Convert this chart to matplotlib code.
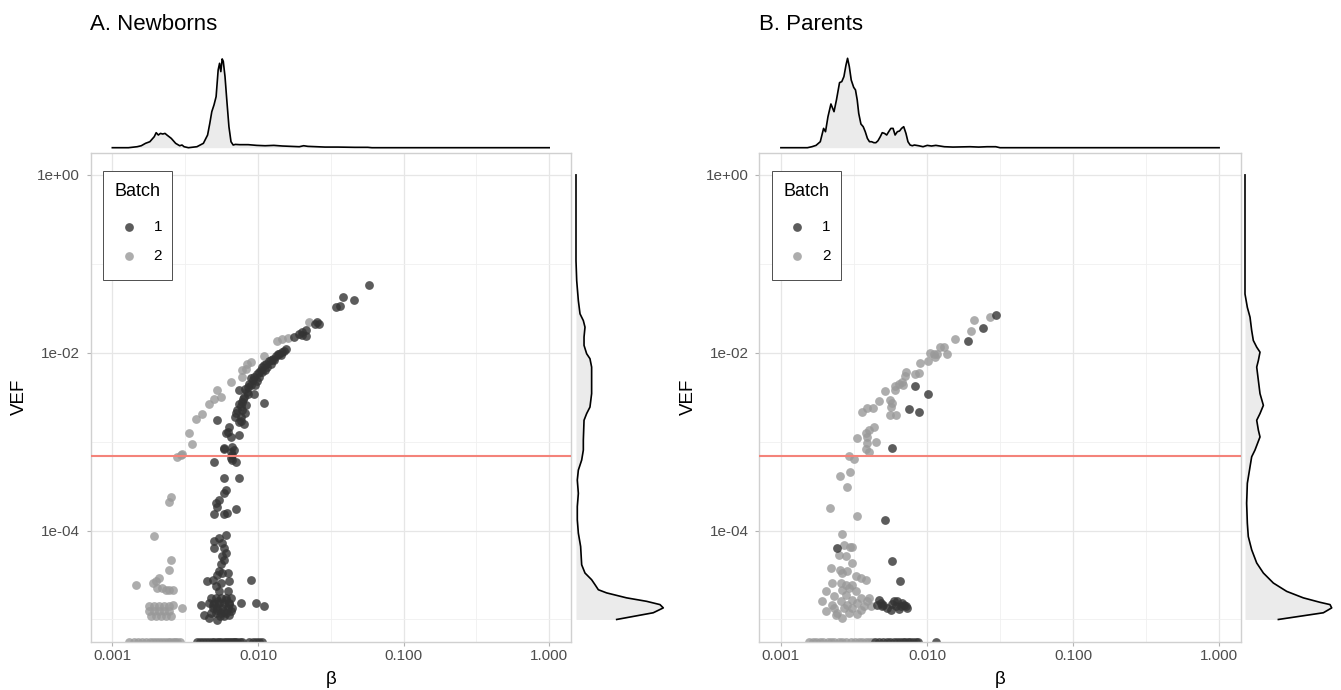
import numpy as np
import matplotlib
matplotlib.use("Agg")
import matplotlib.pyplot as plt
from matplotlib.patches import Rectangle
from matplotlib.lines import Line2D
from matplotlib.ticker import FixedLocator, FixedFormatter, NullFormatter

plt.rcParams['font.family'] = ['Liberation Sans', 'DejaVu Sans']

# ---------------- data ----------------
titles = ["A. Newborns", "B. Parents"]
batches = ["1", "2"]
batch_colors = ["#333333", "#999999"]
x_breaks = [0.001, 0.01, 0.1, 1.0]
x_labels = ["0.001", "0.010", "0.100", "1.000"]
y_breaks = [1.0, 1e-2, 1e-4]
y_labels = ["1e+00", "1e-02", "1e-04"]
vef_threshold = 6.94e-4

# Panel A, batch 1
A_b1_beta = [
    0.0578, 0.0385, 0.0460, 0.0343, 0.0365, 0.0256, 0.0246, 0.0263, 0.0213, 0.0202,
    0.0192, 0.0213, 0.0177, 0.0200, 0.0155, 0.0147, 0.0140, 0.0133, 0.01435, 0.0126,
    0.0119, 0.0129, 0.0113, 0.01225, 0.0107, 0.0116, 0.0105, 0.0112, 0.0099, 0.0107,
    0.0094, 0.0102, 0.0092, 0.0098, 0.0089, 0.0096, 0.0085, 0.0084, 0.0094, 0.0080,
    0.0074, 0.0078, 0.0074, 0.0083, 0.0072, 0.0078, 0.0076, 0.0070, 0.0080, 0.0074,
    0.0110, 0.0150, 0.0137, 0.0122, 0.0110, 0.0101, 0.0090, 0.0087, 0.0082, 0.0086,
    0.0079, 0.0076, 0.0071, 0.0082, 0.0077, 0.00527, 0.00634, 0.0060, 0.00652, 0.0074,
    0.0062, 0.00586, 0.00652, 0.00668, 0.00667, 0.00585, 0.00685, 0.00667, 0.0050, 0.00652,
    0.00705, 0.00586, 0.00743, 0.00601, 0.00586, 0.00542, 0.00514, 0.00527, 0.00705, 0.0050,
    0.00586, 0.0061, 0.00601, 0.00542, 0.0050, 0.0057, 0.0050, 0.00586, 0.00601, 0.0057,
    0.00586, 0.00556, 0.00542, 0.0057, 0.00618, 0.00527, 0.0045, 0.00488, 0.00634, 0.00903,
    0.00556, 0.00514, 0.00618, 0.00542,
    0.00474, 0.00514, 0.00556, 0.00601, 0.00652, 0.00462, 0.0050, 0.00542, 0.00586, 0.00634,
    0.00406, 0.00488, 0.00527, 0.0057, 0.00618, 0.00668, 0.00474, 0.00514, 0.00556, 0.00601,
    0.00652, 0.00427, 0.00634, 0.00462, 0.00527, 0.00586, 0.00762, 0.00966, 0.01104,
    0.0053, 0.0058, 0.0049, 0.0063, 0.0055, 0.0060, 0.0052,
    0.0038, 0.0040, 0.0042, 0.0044, 0.0046, 0.0048, 0.0050, 0.0052, 0.0054, 0.0056,
    0.0058, 0.0060, 0.0062, 0.0064, 0.0066, 0.0068, 0.0070, 0.0072, 0.0075, 0.0078,
    0.0087, 0.0092, 0.0097, 0.0102, 0.0106,
]
A_b1_vef = [
    0.0584, 0.0429, 0.0393, 0.0325, 0.0333, 0.0221, 0.0211, 0.0211, 0.0178, 0.0171,
    0.0163, 0.0156, 0.0150, 0.0160, 0.0109, 0.0102, 0.00958, 0.0091, 0.00933, 0.00857,
    0.00807, 0.0082, 0.00753, 0.0074, 0.0069, 0.0069, 0.00634, 0.00634, 0.00582, 0.00607,
    0.00533, 0.00533, 0.0049, 0.00478, 0.0043, 0.0043, 0.00412, 0.00362, 0.00341, 0.00318,
    0.00378, 0.0028, 0.00268, 0.00257, 0.00226, 0.00226, 0.0019, 0.0019, 0.0016, 0.00167,
    0.0027, 0.0105, 0.0097, 0.0083, 0.0072, 0.0061, 0.0052, 0.0045, 0.0039, 0.0034,
    0.0030, 0.0025, 0.0021, 0.0021, 0.0017, 0.00174, 0.00147, 0.00124, 0.00114, 0.00118,
    0.00129, 0.00084, 0.00077, 0.00071, 0.000875, 0.00082, 0.000808, 0.00062, 0.000594, 0.000647,
    0.000594, 0.000386, 0.000386, 0.000286, 0.000262, 0.000221, 0.000202, 0.000186, 0.000175, 0.000153,
    0.000153, 0.000157, 8.9e-5, 8.35e-5, 7.66e-5, 7.2e-5, 6.34e-5, 6.34e-5, 5.57e-5, 5.12e-5,
    4.69e-5, 4.2e-5, 3.47e-5, 3.32e-5, 3.32e-5, 3.13e-5, 2.68e-5, 2.8e-5, 2.68e-5, 2.8e-5,
    2.57e-5, 2.36e-5, 2.07e-5, 2.07e-5,
    1.74e-5, 1.74e-5, 1.74e-5, 1.74e-5, 1.74e-5, 1.53e-5, 1.53e-5, 1.53e-5, 1.53e-5, 1.53e-5,
    1.47e-5, 1.35e-5, 1.35e-5, 1.35e-5, 1.35e-5, 1.35e-5, 1.18e-5, 1.18e-5, 1.18e-5, 1.18e-5,
    1.24e-5, 1.13e-5, 1.13e-5, 1.04e-5, 9.98e-6, 1.09e-5, 1.53e-5, 1.53e-5, 1.41e-5,
    1.6e-5, 1.25e-5, 1.45e-5, 1.5e-5, 1.1e-5, 1.65e-5, 1.28e-5,
    0, 0, 0, 0, 0, 0, 0, 0, 0, 0,
    0, 0, 0, 0, 0, 0, 0, 0, 0, 0,
    0, 0, 0, 0, 0,
]

# Panel A, batch 2
A_b2_beta = [
    0.0225, 0.0136, 0.0147, 0.0160, 0.0110, 0.00893, 0.00847, 0.00783, 0.00826, 0.00783,
    0.00652, 0.00527, 0.0050, 0.00556, 0.00462, 0.00416, 0.00374, 0.00337, 0.00355, 0.00303,
    0.0028, 0.00295, 0.00252, 0.00245, 0.00194, 0.00252, 0.00245, 0.00145, 0.00189, 0.00199,
    0.0021, 0.00204, 0.00221, 0.00233, 0.00245, 0.00263, 0.00303, 0.00259,
    0.00179, 0.00194, 0.0021, 0.00227, 0.00245,
    0.00179, 0.00194, 0.0021, 0.00227, 0.00245,
    0.00184, 0.00199, 0.00215, 0.00233, 0.00252,
    0.0013, 0.0014, 0.0015, 0.0016, 0.0017, 0.0018, 0.0019, 0.0020, 0.0021, 0.0022,
    0.0023, 0.0024, 0.0025, 0.0026, 0.0027, 0.0028, 0.0029,
]
A_b2_vef = [
    0.0221, 0.0135, 0.0144, 0.0146, 0.0091, 0.00785, 0.0074, 0.00634, 0.00662, 0.00533,
    0.00469, 0.00378, 0.00305, 0.00318, 0.00268, 0.00207, 0.00179, 0.00124, 0.00093, 0.00072,
    0.00068, 0.000705, 0.00024, 0.000211, 8.7e-5, 4.69e-5, 3.62e-5, 2.46e-5, 2.57e-5, 2.68e-5,
    2.92e-5, 2.26e-5, 2.26e-5, 2.16e-5, 2.16e-5, 2.16e-5, 1.35e-5, 1.47e-5,
    1.41e-5, 1.41e-5, 1.41e-5, 1.41e-5, 1.41e-5,
    1.24e-5, 1.24e-5, 1.24e-5, 1.24e-5, 1.24e-5,
    1.09e-5, 1.09e-5, 1.09e-5, 1.09e-5, 1.09e-5,
    0, 0, 0, 0, 0, 0, 0, 0, 0, 0,
    0, 0, 0, 0, 0, 0, 0,
]

# Panel B, batch 1
B_b1_beta = [
    0.0298, 0.0241, 0.0191, 0.00826, 0.0102, 0.00752, 0.0088, 0.00578, 0.0052, 0.00243,
    0.00572, 0.00652, 0.00469, 0.00456, 0.00494, 0.00481, 0.00534, 0.00563, 0.0061, 0.00625,
    0.00643, 0.00695, 0.00733, 0.00593, 0.00676, 0.0050, 0.0066, 0.0072, 0.0058,
    0.0044, 0.0047, 0.0050, 0.0053, 0.0056, 0.0059, 0.0062, 0.0065, 0.0068, 0.0071,
    0.0074, 0.0077, 0.0080, 0.0084, 0.0087, 0.0115,
]
B_b1_vef = [
    0.0268, 0.019, 0.0135, 0.0042, 0.00341, 0.0023, 0.00216, 0.00084, 0.000132, 6.34e-5,
    4.49e-5, 2.73e-5, 1.67e-5, 1.47e-5, 1.41e-5, 1.53e-5, 1.35e-5, 1.29e-5, 1.41e-5, 1.6e-5,
    1.32e-5, 1.47e-5, 1.35e-5, 1.6e-5, 1.53e-5, 1.45e-5, 1.4e-5, 1.42e-5, 1.5e-5,
    0, 0, 0, 0, 0, 0, 0, 0, 0, 0,
    0, 0, 0, 0, 0, 0,
]

# Panel B, batch 2
B_b2_beta = [
    0.0272, 0.0211, 0.0200, 0.0155, 0.01303, 0.01236, 0.01374, 0.01174, 0.01113, 0.01057,
    0.01143, 0.0102, 0.00893, 0.0088, 0.00826, 0.00724, 0.00702, 0.00676, 0.00643, 0.00603,
    0.00603, 0.00687, 0.00515, 0.00469, 0.00428, 0.0039, 0.0036, 0.00557, 0.00578, 0.00563,
    0.00557, 0.0061, 0.00433, 0.00401, 0.0038, 0.00333, 0.00388, 0.00445, 0.0039, 0.0038,
    0.00401, 0.00292, 0.00316, 0.00297, 0.00254, 0.00282, 0.00217, 0.00333, 0.0026, 0.0027,
    0.00297, 0.00305, 0.0025, 0.00277, 0.00305, 0.00219, 0.00254, 0.00285, 0.00263, 0.00325,
    0.00351, 0.0038, 0.00225, 0.00256, 0.00277, 0.00308, 0.00292, 0.00263, 0.00202, 0.00325,
    0.00231, 0.00277, 0.00192, 0.00351, 0.00401, 0.00308, 0.00256, 0.00225, 0.00285, 0.00333,
    0.0037, 0.00231, 0.0027, 0.00308, 0.00351, 0.00202, 0.00243, 0.00292, 0.00333, 0.00263,
    0.00237, 0.00411, 0.0039,
    0.00155, 0.00165, 0.00175, 0.00185, 0.00195, 0.0021, 0.0022, 0.0023, 0.0025, 0.0026,
    0.0028, 0.0030, 0.0032, 0.0034, 0.0036, 0.0038, 0.0040, 0.0042,
]
B_b2_vef = [
    0.0255, 0.0231, 0.0175, 0.0144, 0.0116, 0.0116, 0.00975, 0.00975, 0.00975, 0.0099,
    0.00893, 0.0081, 0.00766, 0.0059, 0.00571, 0.00607, 0.00543, 0.00469, 0.00449, 0.0042,
    0.00385, 0.0043, 0.00372, 0.00287, 0.00242, 0.00242, 0.00216, 0.00297, 0.00273, 0.00246,
    0.00198, 0.00198, 0.00147, 0.00135, 0.00124, 0.00111, 0.00113, 0.000995, 0.000955, 0.000818,
    0.00077, 0.000689, 0.00063, 0.000458, 0.00041, 0.000306, 0.000178, 0.000146, 9.1e-5, 6.9e-5,
    6.6e-5, 6.6e-5, 5.33e-5, 5.12e-5, 4.3e-5, 3.78e-5, 3.62e-5, 3.47e-5, 3.32e-5, 3.05e-5,
    2.92e-5, 2.8e-5, 2.57e-5, 2.57e-5, 2.46e-5, 2.46e-5, 2.26e-5, 2.16e-5, 2.07e-5, 2.07e-5,
    1.82e-5, 1.9e-5, 1.6e-5, 1.74e-5, 1.74e-5, 1.67e-5, 1.6e-5, 1.47e-5, 1.47e-5, 1.53e-5,
    1.41e-5, 1.35e-5, 1.35e-5, 1.35e-5, 1.29e-5, 1.24e-5, 1.18e-5, 1.18e-5, 1.15e-5, 1.04e-5,
    1.13e-5, 1.41e-5, 1.6e-5,
    0, 0, 0, 0, 0, 0, 0, 0, 0, 0,
    0, 0, 0, 0, 0, 0, 0, 0,
]

# Marginal densities (scaled so the highest peak is 1)
A_top_beta = [0.001, 0.00129, 0.00148, 0.00158, 0.00169, 0.00181, 0.00194, 0.0020, 0.00207, 0.00214,
              0.00222, 0.0023, 0.00237, 0.00254, 0.00272, 0.0029, 0.00301, 0.00311, 0.00333, 0.00381,
              0.00422, 0.00451, 0.00467, 0.00482, 0.00499, 0.00516, 0.00533, 0.00545, 0.00556, 0.00568,
              0.00578, 0.00594, 0.00611, 0.00632, 0.00653, 0.00676, 0.0070, 0.00748, 0.00857, 0.0098,
              0.0112, 0.01285, 0.01469, 0.01923, 0.0206, 0.02203, 0.02523, 0.02884, 0.03532, 0.04634,
              0.05675, 0.06067, 1.0]
A_top_dens = [0, 0, 0.011, 0.022, 0.049, 0.067, 0.123, 0.168, 0.142, 0.160,
              0.153, 0.160, 0.142, 0.104, 0.049, 0.022, 0.030, 0.011, 0, 0.011,
              0.049, 0.142, 0.272, 0.403, 0.478, 0.571, 0.869, 0.944, 0.851, 0.993,
              0.966, 0.795, 0.534, 0.235, 0.067, 0.030, 0.037, 0.034, 0.034, 0.026,
              0.022, 0.026, 0.019, 0.011, 0.022, 0.015, 0.011, 0.007, 0.007, 0.004,
              0.004, 0, 0]
B_top_beta = [0.001, 0.00152, 0.00163, 0.00174, 0.00186, 0.00196, 0.00202, 0.0021, 0.0022, 0.00231,
              0.0024, 0.00252, 0.00261, 0.0027, 0.00279, 0.00286, 0.00294, 0.00303, 0.00315, 0.00324,
              0.00333, 0.00341, 0.00353, 0.00366, 0.00378, 0.00391, 0.00404, 0.00418, 0.00433, 0.00447,
              0.00462, 0.00479, 0.00494, 0.00512, 0.0053, 0.00547, 0.00566, 0.00586, 0.00605, 0.00627,
              0.00649, 0.0067, 0.00693, 0.00718, 0.00741, 0.00767, 0.00794, 0.0082, 0.00877, 0.0094,
              0.01005, 0.01074, 0.0115, 0.01315, 0.01507, 0.01972, 0.0226, 0.02582, 0.02958, 0.03162,
              1.0]
B_top_dens = [0, 0, 0.011, 0.026, 0.067, 0.216, 0.179, 0.347, 0.489, 0.403,
              0.534, 0.728, 0.739, 0.795, 0.925, 1.0, 0.907, 0.757, 0.675, 0.646,
              0.534, 0.384, 0.265, 0.235, 0.179, 0.104, 0.067, 0.067, 0.056, 0.056,
              0.078, 0.123, 0.168, 0.160, 0.142, 0.179, 0.216, 0.216, 0.142, 0.179,
              0.187, 0.216, 0.235, 0.160, 0.067, 0.030, 0.022, 0.030, 0.022, 0.011,
              0.026, 0.019, 0.026, 0.011, 0.007, 0.011, 0.007, 0.011, 0.011, 0,
              0]
A_right_vef = [1.0, 0.108, 0.0647, 0.0385, 0.0274, 0.0230, 0.0194, 0.0150, 0.0121, 0.00975,
               0.00857, 0.0069, 0.00347, 0.00245, 0.00207, 0.00174, 0.00104, 0.000804, 0.000621, 0.000479,
               0.00037, 0.000262, 0.000186, 0.000132, 9.35e-5, 6.62e-5, 4.12e-5, 3.33e-5, 2.8e-5, 2.46e-5,
               2.16e-5, 1.99e-5, 1.75e-5, 1.6e-5, 1.47e-5, 1.35e-5, 1.19e-5, 1.0e-5]
A_right_dens = [0, 0, 0.008, 0.027, 0.046, 0.084, 0.103, 0.092, 0.092, 0.122,
                0.160, 0.179, 0.179, 0.160, 0.122, 0.092, 0.084, 0.084, 0.065, 0.027,
                0.015, 0.027, 0.015, 0.015, 0.027, 0.053, 0.065, 0.103, 0.179, 0.218,
                0.256, 0.351, 0.580, 0.809, 0.962, 1.0, 0.885, 0.466]
B_right_vef = [1.0, 0.0458, 0.0324, 0.0251, 0.0178, 0.01374, 0.01156, 0.01016, 0.00818, 0.0069,
               0.00489, 0.00347, 0.00256, 0.00207, 0.00174, 0.00135, 0.00113, 0.000804, 0.000676, 0.000522,
               0.00034, 0.000203, 0.000121, 8.57e-5, 6.08e-5, 4.32e-5, 3.33e-5, 2.57e-5, 2.07e-5, 1.75e-5,
               1.56e-5, 1.47e-5, 1.35e-5, 1.19e-5, 1.0e-5]
B_right_dens = [0, 0, 0.027, 0.058, 0.077, 0.096, 0.135, 0.173, 0.154, 0.135,
                0.154, 0.173, 0.212, 0.173, 0.135, 0.154, 0.173, 0.115, 0.077, 0.058,
                0.027, 0.019, 0.027, 0.038, 0.077, 0.135, 0.212, 0.327, 0.481, 0.673,
                0.865, 0.981, 1.0, 0.904, 0.385]

# ---------------- layout ----------------
W, H = 1341, 690
fig = plt.figure(figsize=(W / 100, H / 100), dpi=100)
fig.patch.set_facecolor("white")

XLIM = (10 ** -3.15, 10 ** 0.15)
YLIM = (10 ** -5.25, 10 ** 0.25)
x_minor = [10 ** -2.5, 10 ** -1.5, 10 ** -0.5]
y_minor = [1e-1, 1e-3, 1e-5]


def add_ax(l, t, r, b):
    return fig.add_axes([l / W, 1 - b / H, (r - l) / W, (b - t) / H])


def draw_panel(left, right, title, b1x, b1y, b2x, b2y, tx, td, rv, rd,
               rbase, rpeak):
    top, bottom = 152.7, 641.7
    ax = add_ax(left, top, right, bottom)
    ax.set_xscale("log")
    ax.set_yscale("log")
    ax.set_xlim(XLIM)
    ax.set_ylim(YLIM)
    ax.xaxis.set_major_locator(FixedLocator(x_breaks))
    ax.xaxis.set_major_formatter(FixedFormatter(x_labels))
    ax.xaxis.set_minor_locator(FixedLocator(x_minor))
    ax.xaxis.set_minor_formatter(NullFormatter())
    ax.yaxis.set_major_locator(FixedLocator(y_breaks))
    ax.yaxis.set_major_formatter(FixedFormatter(y_labels))
    ax.yaxis.set_minor_locator(FixedLocator(y_minor))
    ax.yaxis.set_minor_formatter(NullFormatter())
    ax.grid(True, which="major", color="#E6E6E6", lw=0.9)
    ax.grid(True, which="minor", color="#F0F0F0", lw=0.6)
    ax.set_axisbelow(True)
    ax.tick_params(which="major", length=2.6, width=0.8, color="#B3B3B3",
                   labelsize=11, labelcolor="#4D4D4D")
    ax.tick_params(axis="x", which="major", pad=2.6)
    ax.tick_params(axis="y", which="major", pad=4.8)
    ax.tick_params(which="minor", length=0)
    for s in ax.spines.values():
        s.set_color("#D0D0D0")
        s.set_linewidth(1.0)

    floor = YLIM[0]  # zero VEF drawn at the panel edge (like -Inf in ggplot)
    for xs, ys, col in ((b2x, b2y, batch_colors[1]), (b1x, b1y, batch_colors[0])):
        xs = np.asarray(xs, float)
        ys = np.asarray(ys, float)
        ys = np.where(ys > 0, ys, floor)
        ax.scatter(xs, ys, s=40, c=col, alpha=0.8, linewidths=0, zorder=2)
    ax.axhline(vef_threshold, color="#F4837A", lw=1.5, zorder=3)

    # top marginal density
    axt = add_ax(left, 50, right, 150)
    axt.set_xscale("log")
    axt.set_xlim(XLIM)
    axt.set_ylim(-(150 - 147.7) / 89.4, 1 + (58.3 - 50) / 89.4)
    axt.set_axis_off()
    axt.fill_between(tx, td, 0, color="#EBEBEB", lw=0)
    axt.plot(tx, td, color="black", lw=1.2, clip_on=False)

    # right marginal density
    r_l, r_r = rbase - 4, 1341 if rbase > 1000 else 672
    scale = rpeak - rbase
    axr = add_ax(r_l, top, r_r, bottom)
    axr.set_yscale("log")
    axr.set_ylim(YLIM)
    axr.set_xlim(-(rbase - r_l) / scale, 1 + (r_r - rpeak) / scale)
    axr.set_axis_off()
    axr.fill_betweenx(rv, rd, 0, color="#EBEBEB", lw=0)
    axr.plot(rd, rv, color="black", lw=1.2, clip_on=False)

    # titles / axis titles
    fig.text(left / W, 1 - 30 / H, title, fontsize=16, ha="left", va="baseline",
             color="black")
    fig.text((left + right) / 2 / W, 1 - 680 / H, "β", fontsize=13.5,
             ha="center", va="center", color="black")
    fig.text((left - 71) / W, 1 - ((top + bottom) / 2) / H, "VEF", fontsize=13.5,
             rotation=90, ha="center", va="center", color="black")

    # legend
    bl, bt, bw, bh = left + 12.7, 171, 69, 109
    fig.add_artist(Rectangle((bl / W, 1 - (bt + bh) / H), bw / W, bh / H,
                             transform=fig.transFigure, facecolor="white",
                             edgecolor="#4D4D4D", lw=0.7, zorder=5))
    fig.text((bl + 11.3) / W, 1 - 192 / H, "Batch", fontsize=13, ha="left",
             va="center", color="black", zorder=6)
    for lab, col, yy in zip(batches, batch_colors, (226.7, 256.0)):
        fig.add_artist(Line2D([(bl + 25.3) / W], [1 - yy / H], marker="o",
                              markersize=6.3, color=col, alpha=0.8, lw=0,
                              markeredgewidth=0, transform=fig.transFigure,
                              zorder=6))
        fig.text((bl + 50.5) / W, 1 - yy / H, lab, fontsize=11, ha="left",
                 va="center", color="black", zorder=6)


draw_panel(90.5, 571, titles[0], A_b1_beta, A_b1_vef, A_b2_beta, A_b2_vef,
           A_top_beta, A_top_dens, A_right_vef, A_right_dens, 576, 663.3)
draw_panel(759, 1241, titles[1], B_b1_beta, B_b1_vef, B_b2_beta, B_b2_vef,
           B_top_beta, B_top_dens, B_right_vef, B_right_dens, 1245, 1331.7)

fig.savefig("out.png", dpi=100, facecolor="white")
